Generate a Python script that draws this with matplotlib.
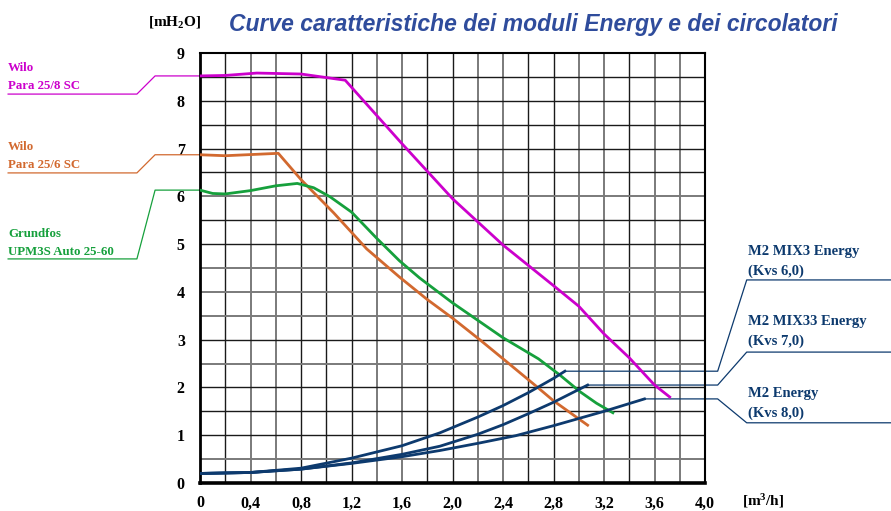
import matplotlib
matplotlib.use("Agg")
import matplotlib.pyplot as plt

# --- data (Q in m3/h, H in mH2O) ---
wilo8_q = [0, 0.2, 0.45, 0.8, 1.15, 1.6, 2.0, 2.4, 2.8, 3.0, 3.2, 3.4, 3.6, 3.72]
wilo8_h = [8.52, 8.53, 8.58, 8.56, 8.43, 7.1, 5.95, 4.98, 4.13, 3.7, 3.12, 2.62, 2.05, 1.80]

wilo6_q = [0, 0.2, 0.62, 0.8, 1.06, 1.32, 1.58, 1.8, 2.0, 2.22, 2.4, 2.67, 2.8, 3.07]
wilo6_h = [6.87, 6.85, 6.9, 6.35, 5.65, 4.9, 4.31, 3.84, 3.45, 2.99, 2.6, 2.01, 1.72, 1.21]

grund_q = [0, 0.1, 0.2, 0.4, 0.6, 0.77, 0.9, 1.03, 1.2, 1.4, 1.58, 1.74, 2.0, 2.4, 2.68, 2.85, 3.01, 3.14, 3.27]
grund_h = [6.13, 6.06, 6.05, 6.12, 6.22, 6.27, 6.18, 5.99, 5.67, 5.12, 4.65, 4.29, 3.77, 3.04, 2.6, 2.26, 1.91, 1.67, 1.47]

mix3_q = [0, 0.4, 0.8, 1.2, 1.6, 1.9, 2.2, 2.4, 2.6, 2.8, 2.89]
mix3_h = [0.2, 0.22, 0.31, 0.52, 0.78, 1.05, 1.38, 1.62, 1.89, 2.19, 2.34]

mix33_q = [0, 0.4, 0.8, 1.2, 1.6, 1.9, 2.2, 2.4, 2.6, 2.8, 3.07]
mix33_h = [0.2, 0.22, 0.29, 0.42, 0.6, 0.77, 1.02, 1.22, 1.45, 1.69, 2.05]

m2_q = [0, 0.4, 0.8, 1.2, 1.6, 1.9, 2.2, 2.5, 2.8, 3.2, 3.52]
m2_h = [0.2, 0.22, 0.29, 0.41, 0.55, 0.68, 0.83, 0.99, 1.2, 1.5, 1.76]

x_ticks = [0, 0.4, 0.8, 1.2, 1.6, 2.0, 2.4, 2.8, 3.2, 3.6, 4.0]
x_labels = ["0", "0,4", "0,8", "1,2", "1,6", "2,0", "2,4", "2,8", "3,2", "3,6", "4,0"]
y_ticks = list(range(10))

# colours
MAGENTA = "#cc00cc"
ORANGE = "#d2692f"
GREEN = "#16a03c"
NAVY = "#0d3a6e"
TITLE_BLUE = "#2f4c9c"

plt.rcParams["mathtext.fontset"] = "custom"
plt.rcParams["mathtext.rm"] = "Liberation Serif:bold"
plt.rcParams["mathtext.it"] = "Liberation Serif:bold"

fig = plt.figure(figsize=(8.91, 5.11), dpi=100)
ax = fig.add_axes([0.2245, 0.0548, 0.5668, 0.8415])
ax.set_xlim(0, 4)
ax.set_ylim(0, 9)

# grid: two tones like the scanned original
gray_x = [0.4, 0.6, 1.4, 1.6, 2.2, 2.4, 3.0, 3.2, 3.6, 3.8]
for i in range(1, 20):
    xv = i * 0.2
    if any(abs(xv - g) < 1e-6 for g in gray_x):
        ax.axvline(xv, color="#7a7a7a", lw=1.4, zorder=1)
    else:
        ax.axvline(xv, color="#1a1a1a", lw=1.0, zorder=1)
gray_y = [0.5, 2.5, 3.5, 4.0, 4.5, 6.0]
for i in range(1, 18):
    yv = i * 0.5
    if yv in gray_y:
        ax.axhline(yv, color="#7a7a7a", lw=1.4, zorder=1)
    else:
        ax.axhline(yv, color="#1a1a1a", lw=1.0, zorder=1)

for s in ["top", "right"]:
    ax.spines[s].set_linewidth(1.5)
ax.spines["left"].set_linewidth(2.0)
ax.spines["bottom"].set_linewidth(2.6)

ax.set_xticks(x_ticks)
ax.set_xticklabels(x_labels)
ax.set_yticks(y_ticks)
ax.tick_params(axis="x", length=0, pad=9)
ax.tick_params(axis="y", length=0, pad=11)
for lab in ax.get_xticklabels() + ax.get_yticklabels():
    lab.set_fontfamily("Liberation Serif")
    lab.set_fontweight("bold")
    lab.set_fontsize(11.5)

# curves
lw = 2.0
ax.plot(wilo8_q, wilo8_h, color=MAGENTA, lw=lw, zorder=3)
ax.plot(wilo6_q, wilo6_h, color=ORANGE, lw=lw, zorder=3)
ax.plot(grund_q, grund_h, color=GREEN, lw=lw, zorder=3)
ax.plot(mix3_q, mix3_h, color=NAVY, lw=lw, zorder=4)
ax.plot(mix33_q, mix33_h, color=NAVY, lw=lw, zorder=4)
ax.plot(m2_q, m2_h, color=NAVY, lw=lw, zorder=4)

# left leaders + labels (pump curves)
lab_font = dict(family="Liberation Serif", fontweight="bold", fontsize=9.3, clip_on=False)
left = [
    (wilo8_h[0], 8.14, MAGENTA, "Wilo", "Para 25/8 SC", 8.62, 8.25),
    (wilo6_h[0], 6.49, ORANGE, "Wilo", "Para 25/6 SC", 6.97, 6.59),
    (grund_h[0], 4.69, GREEN, "Grundfos", "UPM3S Auto 25-60", 5.15, 4.77),
]
for h0, hlow, col, l1, l2, y1, y2 in left:
    ax.plot([0, -0.356, -0.50, -1.52], [h0, h0, hlow, hlow], color=col, lw=0.9,
            clip_on=False, zorder=2)
    ax.text(-1.52, y1, l1, color=col, va="baseline", ha="left", **lab_font)
    ax.text(-1.52, y2, l2, color=col, va="baseline", ha="left", **lab_font)

# right leaders + labels (valve curves)
right = [
    (mix3_q[-1], mix3_h[-1], 4.25, "M2 MIX3 Energy", "(Kvs 6,0)", 4.77, 4.36),
    (mix33_q[-1], mix33_h[-1], 2.74, "M2 MIX33 Energy", "(Kvs 7,0)", 3.31, 2.89),
    (m2_q[-1], m2_h[-1], 1.26, "M2 Energy", "(Kvs 8,0)", 1.80, 1.38),
]
for q1, h1, hlab, l1, l2, y1, y2 in right:
    ax.plot([q1, 4.10, 4.33, 5.47], [h1, h1, hlab, hlab], color=NAVY, lw=0.9,
            clip_on=False, zorder=2)
    ax.text(4.34, y1, l1, color=NAVY, va="baseline", ha="left", family="Liberation Serif",
            fontweight="bold", fontsize=10.5, clip_on=False)
    ax.text(4.34, y2, l2, color=NAVY, va="baseline", ha="left", family="Liberation Serif",
            fontweight="bold", fontsize=10.5, clip_on=False)

# units and title
fig.text(175 / 891, 1 - 22 / 511, "[mH$_2$O]", family="Liberation Serif",
         fontweight="bold", fontsize=11, ha="center", va="center")
fig.text(763 / 891, 1 - 501 / 511, "[m$^3$/h]", family="Liberation Serif",
         fontweight="bold", fontsize=11, ha="center", va="center")
fig.text(533 / 891, 1 - 24 / 511, "Curve caratteristiche dei moduli Energy e dei circolatori",
         family="Liberation Sans", style="italic", fontweight="bold", fontsize=16.5,
         color=TITLE_BLUE, ha="center", va="center")

fig.savefig("out.png", dpi=100)
